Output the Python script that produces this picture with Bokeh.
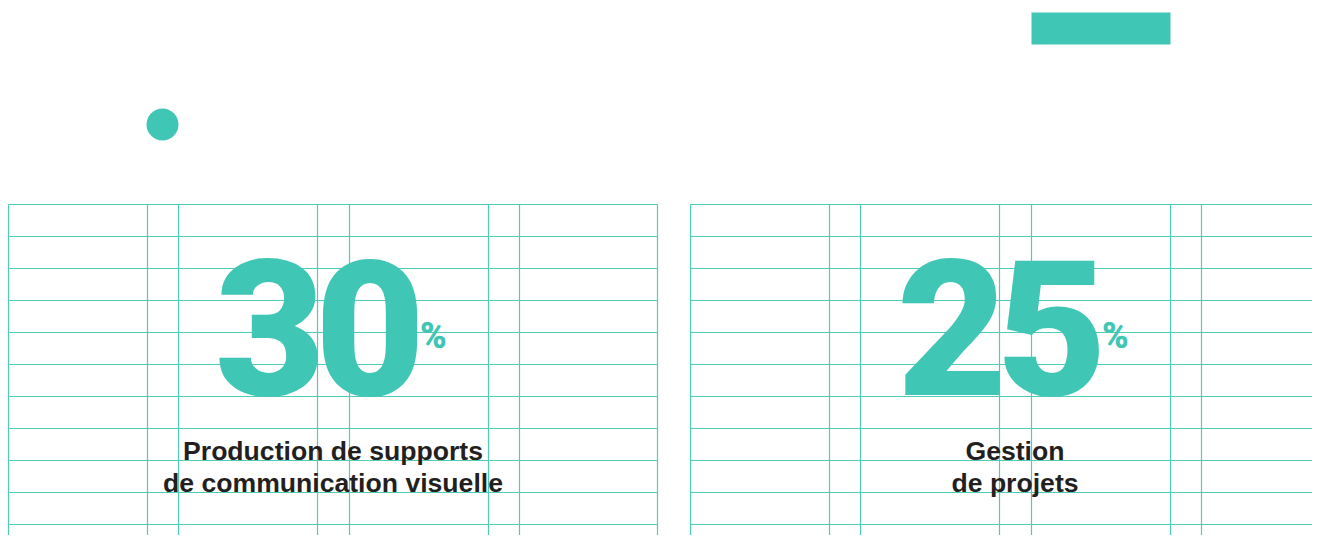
from bokeh.plotting import figure
from bokeh.models import Range1d
from bokeh.core.properties import value
from bokeh.embed import file_html
from bokeh.resources import INLINE

# ---- data ----
percent_values = [30, 25]
percent_suffix = ["%", "%"]
label_line1 = ["Production de supports", "Gestion"]
label_line2 = ["de communication visuelle", "de projets"]

TEAL = "#40C6B4"
GRID = "#4FCBB9"
DARK = "#231F20"

W, H = 1312, 535
p = figure(width=W, height=H, output_backend="svg", toolbar_location=None,
           x_range=Range1d(0, W), y_range=Range1d(H, 0),
           min_border=0, min_border_left=0, min_border_right=0,
           min_border_top=0, min_border_bottom=0)
p.axis.visible = False
p.grid.visible = False
p.outline_line_color = None
p.background_fill_color = "white"
p.border_fill_color = "white"

# ---- decorative shapes ----
p.scatter(x=[162], y=[124], size=32, marker="circle", fill_color=TEAL, line_color=None)
p.quad(left=[1031], right=[1170], top=[12], bottom=[44], fill_color=TEAL, line_color=None)

# ---- grids for each panel ----
panel_lefts = [8, 690]
col_offsets = [0, 139, 170, 309, 341, 480, 511, 649]
grid_top = 204
row_h = 32
bottom = H + 10

x0s, y0s, x1s, y1s = [], [], [], []
for left in panel_lefts:
    right = left + col_offsets[-1]
    for off in col_offsets:
        x0s.append(left + off); x1s.append(left + off)
        y0s.append(grid_top); y1s.append(bottom)
    y = grid_top
    while y <= bottom:
        x0s.append(left); x1s.append(min(right, W + 10))
        y0s.append(y); y1s.append(y)
        y += row_h
p.segment(x0=x0s, y0=y0s, x1=x1s, y1=y1s, line_color=GRID, line_width=1.2)

# ---- texts ----
centers = [left + col_offsets[-1] / 2 for left in panel_lefts]
num_font = value("Roboto Black, Lato Black, DejaVu Sans Condensed, sans-serif")
lab_font = value("Liberation Sans")

def base(y, size, k):
    # compensate for Bokeh's text placement so the glyph baseline sits at y
    return y - k * size

NUM_SIZE = 190
PCT_SIZE = 36
LAB_SIZE = 26.6
DIGIT_STEP = 100         # tight digit spacing (condensed look)
FIRST_DIGIT_DX = -63     # first digit centre relative to panel centre

# big numbers: each digit placed separately for tight tracking
dx, dy, dt = [], [], []
for c, v in zip(centers, percent_values):
    for i, ch in enumerate(str(v)):
        dx.append(c + FIRST_DIGIT_DX + i * DIGIT_STEP)
        dy.append(base(392, NUM_SIZE, 0.34))
        dt.append(ch)
p.text(x=dx, y=dy, text=dt,
       text_font=num_font, text_font_style="bold", text_font_size=f"{NUM_SIZE}px",
       text_color=TEAL, text_align="center", text_baseline="alphabetic")

pct_x = [c + FIRST_DIGIT_DX + (len(str(v)) - 1) * DIGIT_STEP + 50 for c, v in zip(centers, percent_values)]
p.text(x=pct_x, y=[base(348, PCT_SIZE, 0.34)] * 2, text=percent_suffix,
       text_font=num_font, text_font_style="bold", text_font_size=f"{PCT_SIZE}px",
       text_color=TEAL, text_align="left", text_baseline="alphabetic")

p.text(x=centers, y=[base(460, LAB_SIZE, 0.37)] * 2, text=label_line1,
       text_font=lab_font, text_font_style="bold", text_font_size=f"{LAB_SIZE}px",
       text_color=DARK, text_align="center", text_baseline="alphabetic")
p.text(x=centers, y=[base(492, LAB_SIZE, 0.37)] * 2, text=label_line2,
       text_font=lab_font, text_font_style="bold", text_font_size=f"{LAB_SIZE}px",
       text_color=DARK, text_align="center", text_baseline="alphabetic")

open("out.html", "w").write(file_html(p, INLINE))
